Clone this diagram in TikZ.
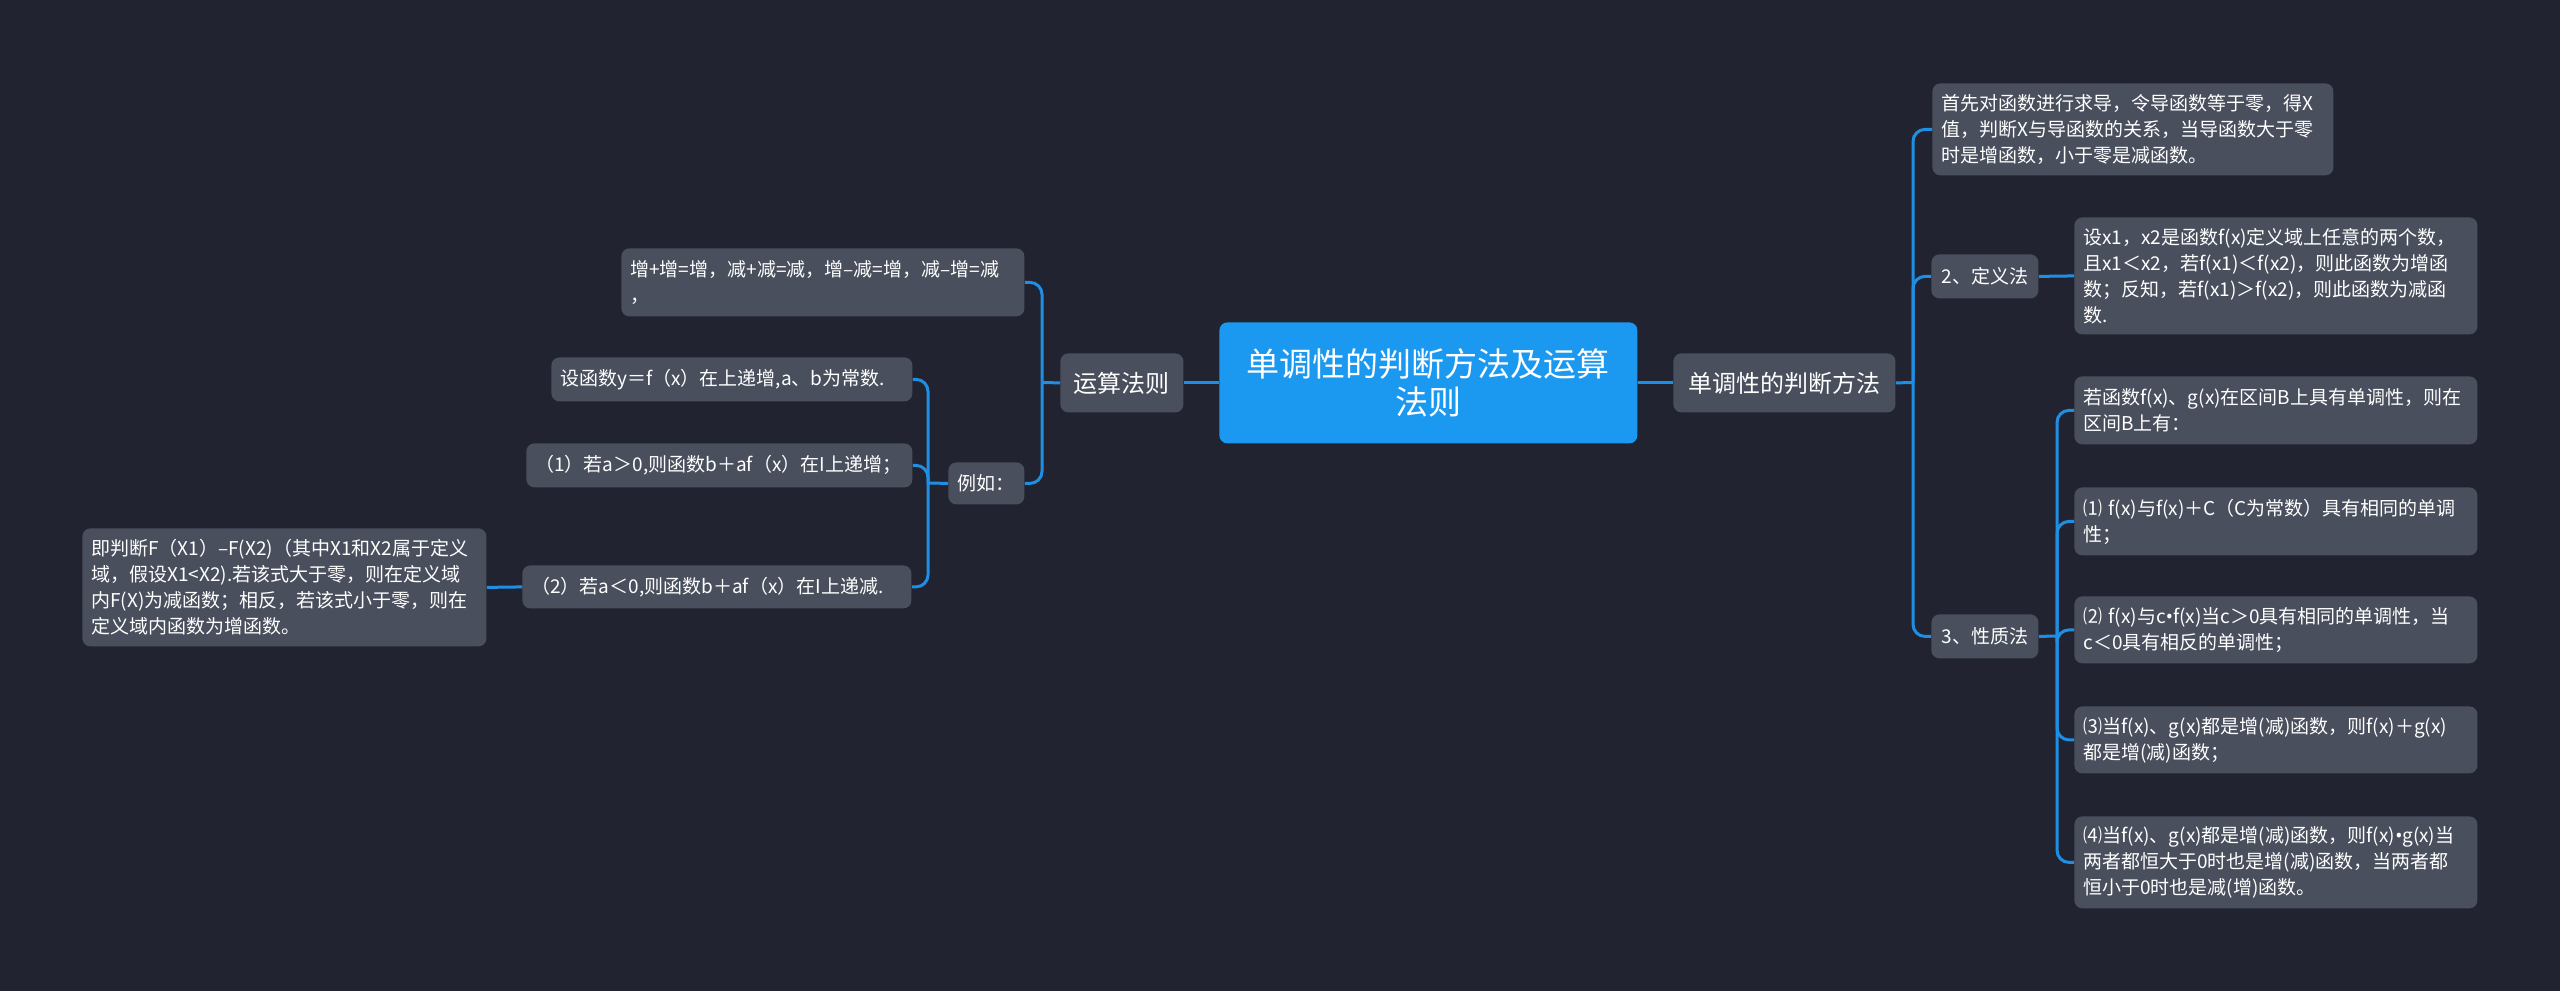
\documentclass[tikz,border=0pt]{standalone}
\usepackage{fontspec}
\setmainfont{Noto Sans CJK SC}
\newfontfamily\latinfont{Noto Sans}
\usepackage{tikz}
\usetikzlibrary{positioning}
\definecolor{mmback}{RGB}{33,36,48}
\definecolor{mmgray}{RGB}{74,79,93}
\definecolor{mmroot}{RGB}{27,152,240}
\definecolor{mmline}{RGB}{31,143,229}
\newcommand{\dotop}{{\latinfont\textbullet}}

\begin{document}
\begin{tikzpicture}[x=0.5pt, y=-0.5pt,
  box/.style={fill=mmgray, rounded corners=4pt, text=white, anchor=north west, align=left,
    inner xsep=4.5pt, inner ysep=0pt, font=\fontsize{9.5}{13}\selectfont},
  topic/.style={box, align=center, font=\fontsize{12}{14}\selectfont},
  small/.style={topic, font=\fontsize{9.5}{13}\selectfont},
  link/.style={draw=mmline, line width=1.5pt, rounded corners=6pt}]
% Background
\fill[mmback] (0,0) rectangle (2560,991);
\useasboundingbox (0,0) rectangle (2560,991);
% Root
\node[box, fill=mmroot, align=center, minimum width=209pt, minimum height=60.5pt,
  font=\fontsize{16.5}{19}\selectfont] (root) at (1219,322) {单调性的判断方法及运算\\法则};
% Main branches
\node[topic, minimum width=111pt, minimum height=29.5pt] (judge) at (1673,353) {单调性的判断方法};
\node[topic, minimum width=61.5pt, minimum height=29.5pt] (rules) at (1060,353) {运算法则};
% Right side
\node[box, text width=191.5pt, minimum height=46pt] (deriv) at (1932,83) {首先对函数进行求导，令导函数等于零，得X\\值，判断X与导函数的关系，当导函数大于零\\时是增函数，小于零是减函数。};
\node[small, minimum width=53.5pt, minimum height=22pt] (defm) at (1931,254) {2、定义法};
\node[box, text width=192.5pt, minimum height=58.5pt] (deftxt) at (2074,217) {设x1，x2是函数f(x)定义域上任意的两个数，\\且x1＜x2，若f(x1)＜f(x2)，则此函数为增函\\数；反知，若f(x1)＞f(x2)，则此函数为减函\\数.};
\node[small, minimum width=53.5pt, minimum height=22pt] (propm) at (1931,614) {3、性质法};
\node[box, text width=192.5pt, minimum height=34pt] (prop0) at (2074,376) {若函数f(x)、g(x)在区间B上具有单调性，则在\\区间B上有：};
\node[box, text width=192.5pt, minimum height=34pt] (prop1) at (2074,487) {⑴~f(x)与f(x)＋C（C为常数）具有相同的单调\\性；};
\node[box, text width=192.5pt, minimum height=33.5pt] (prop2) at (2074,596) {⑵~f(x)与c\dotop f(x)当c＞0具有相同的单调性，当\\c＜0具有相反的单调性；};
\node[box, text width=192.5pt, minimum height=33.5pt] (prop3) at (2074,706) {⑶当f(x)、g(x)都是增(减)函数，则f(x)＋g(x)\\都是增(减)函数；};
\node[box, text width=192.5pt, minimum height=46pt] (prop4) at (2074,816) {⑷当f(x)、g(x)都是增(减)函数，则f(x)\dotop g(x)当\\两者都恒大于0时也是增(减)函数，当两者都\\恒小于0时也是减(增)函数。};
% Left side
\node[box, text width=192.5pt, minimum height=34pt] (sum) at (621,248) {增+增=增，减+减=减，增{–}减=增，减{–}增=减\\，};
\node[small, minimum width=38pt, minimum height=21pt] (eg) at (948,462) {例如：};
\node[box, text width=171.5pt, minimum height=22pt] (ex0) at (551,357) {设函数y＝f（x）在上递增,a、b为常数.};
\node[box, text width=184pt, minimum height=22pt] (ex1) at (526,443) {（1）若a＞0,则函数b＋af（x）在I上递增；};
\node[box, text width=185.5pt, minimum height=21.5pt] (ex2) at (522,565) {（2）若a＜0,则函数b＋af（x）在I上递减.};
\node[box, text width=193pt, minimum height=59pt] (note) at (82,528) {即判断F（X1）{–}F(X2)（其中X1和X2属于定义\\域，假设X1<X2).若该式大于零，则在定义域\\内F(X)为减函数；相反，若该式小于零，则在\\定义域内函数为增函数。};
% Junctions
\coordinate (jr) at (1913,382.5);
\coordinate (jp) at (2057,636);
\coordinate (jl) at (1042,382.5);
\coordinate (je) at (928,483);
% Connectors
\draw[link] (root.east) -- (judge.west);
\draw[link] (root.west) -- (rules.east);
\draw[link] (judge.east) -- (jr);
\draw[link] (jr) |- (deriv.west);
\draw[link] (jr) |- (defm.west);
\draw[link] (jr) |- (propm.west);
\draw[link] (defm.east) -- (deftxt.west);
\draw[link] (propm.east) -- (jp);
\draw[link] (jp) |- (prop0.west);
\draw[link] (jp) |- (prop1.west);
\draw[link] (jp) |- (prop2.west);
\draw[link] (jp) |- (prop3.west);
\draw[link] (jp) |- (prop4.west);
\draw[link] (rules.west) -- (jl);
\draw[link] (jl) |- (sum.east);
\draw[link] (jl) |- (eg.east);
\draw[link] (eg.west) -- (je);
\draw[link] (je) |- (ex0.east);
\draw[link] (je) |- (ex1.east);
\draw[link] (je) |- (ex2.east);
\draw[link] (ex2.west) -- (note.east);
\end{tikzpicture}
\end{document}
